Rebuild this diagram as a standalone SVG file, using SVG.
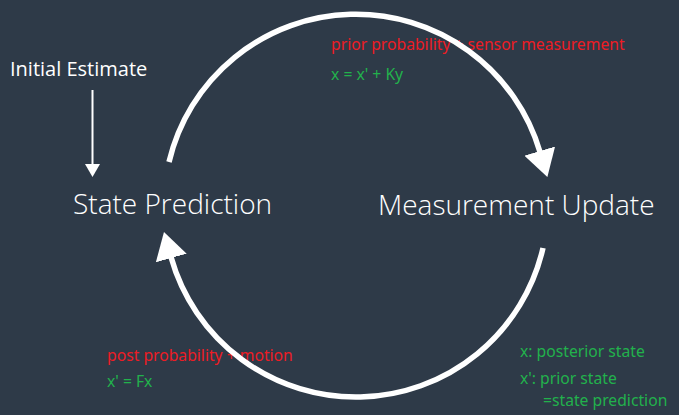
<svg xmlns="http://www.w3.org/2000/svg" width="679" height="415" viewBox="0 0 679 415">
<style>
.node{font-family:"Open Sans","Noto Sans","Liberation Sans",sans-serif;font-weight:300;fill:#ffffff;font-size:28px}
.lbl{font-family:"Open Sans","Noto Sans","Liberation Sans",sans-serif;fill:#ffffff;font-size:20px}
.red{font-family:"Noto Sans","Open Sans","Liberation Sans",sans-serif;fill:#ed1c24;font-size:15.7px}
.grn{font-family:"Noto Sans","Open Sans","Liberation Sans",sans-serif;fill:#22b14c;font-size:15.7px}
.arc{fill:none;stroke:#ffffff;stroke-width:5.5}
</style>
<defs>
<marker id="big" markerUnits="userSpaceOnUse" viewBox="0 -16 27 32" markerWidth="27" markerHeight="32" refX="1" refY="0" orient="auto">
<path d="M0,-16 L27,0 L0,16 Z" fill="#ffffff"/>
</marker>
<marker id="small" markerUnits="userSpaceOnUse" viewBox="0 -8 13 16" markerWidth="13" markerHeight="16" refX="1" refY="0" orient="auto">
<path d="M0,-7.5 L13,0 L0,7.5 Z" fill="#ffffff"/>
</marker>
</defs>
<rect width="679" height="415" fill="#2e3a48"/>
<g id="annotations">
<text class="red" x="331" y="50">prior probability + sensor measurement</text>
<text class="grn" x="331" y="80">x = x' + Ky</text>
<text class="red" x="107" y="361">post probability + motion</text>
<text class="grn" x="107" y="387">x' = Fx</text>
<text class="grn" x="520" y="357">x: posterior state</text>
<text class="grn" x="520" y="384">x': prior state</text>
<text class="grn" x="543" y="406">=state prediction</text>
</g>
<g id="initial-estimate">
<text class="lbl" x="10" y="76">Initial Estimate</text>
</g>
<g id="state-prediction">
<text class="node" x="73" y="214">State Prediction</text>
</g>
<g id="measurement-update">
<text class="node" x="378" y="215">Measurement Update</text>
</g>
<g id="connectors">
<path class="arc" d="M169 162 A192 192 0 0 1 540 152" marker-end="url(#big)"/>
<path class="arc" d="M543 248 A192 192 0 0 1 171 257" marker-end="url(#big)"/>
<path d="M92.5 90 L92.5 165" stroke="#ffffff" stroke-width="2" fill="none" marker-end="url(#small)"/>
</g>
</svg>
